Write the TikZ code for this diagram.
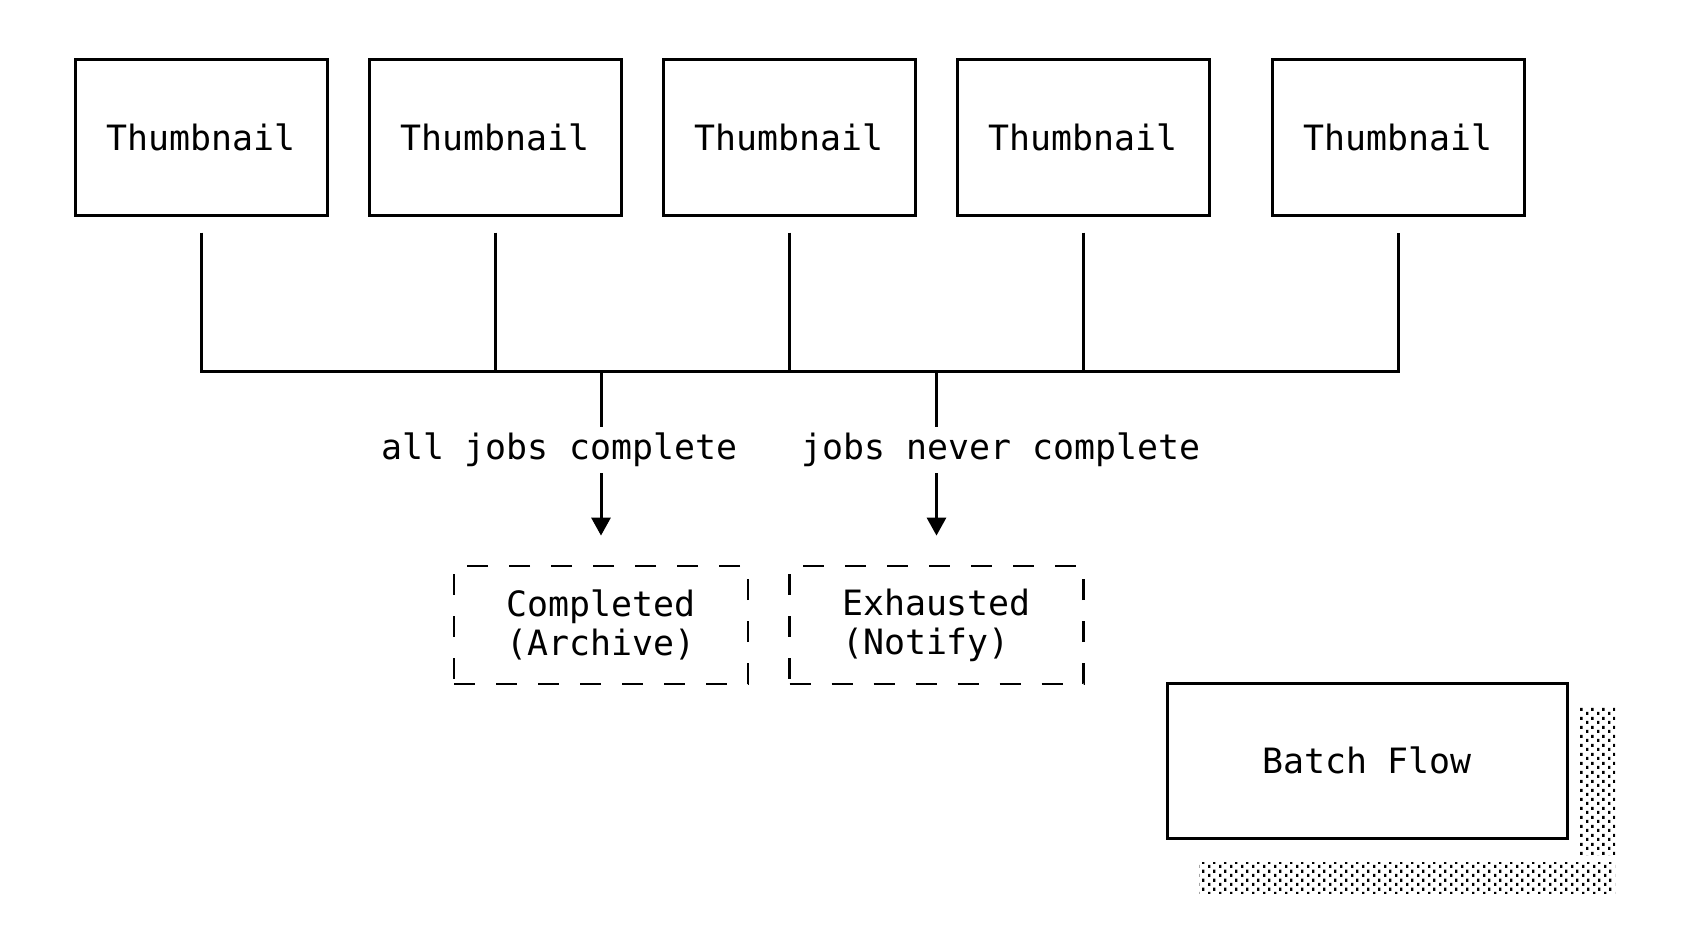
\documentclass[tikz,border=0pt]{standalone}
\usepackage{fontspec}
\setmainfont{DejaVu Sans Mono}
\usetikzlibrary{arrows.meta,patterns.meta}
\pgfdeclarepattern{name=asciishade, type=uncolored,
  bottom left={\pgfpoint{0pt}{0pt}}, top right={\pgfpoint{5.25pt}{4.5pt}},
  tile size={\pgfpoint{5.25pt}{4.5pt}},
  code={\pgfpathrectangle{\pgfpoint{0pt}{0pt}}{\pgfpoint{1.25pt}{1.75pt}}%
        \pgfpathrectangle{\pgfpoint{2.625pt}{2.25pt}}{\pgfpoint{1.25pt}{1.75pt}}%
        \pgfusepath{fill}}}
\tikzset{
  thumb/.style={draw, line width=1.5pt, minimum width=126pt, minimum height=78pt, inner sep=0pt},
  wire/.style={line width=1.5pt},
  dbox/.style={draw, line width=1.4pt, dash pattern=on 10.5pt off 10.5pt,
    minimum width=147pt, minimum height=59pt, inner sep=0pt},
  lbl/.style={inner sep=0pt, minimum height=23pt},
  arr/.style={wire, -{Triangle[length=9pt,width=9.5pt]}},
  shade/.style={pattern=asciishade, pattern color=black, draw=none}
}
\begin{document}
\begin{tikzpicture}[x=0.5pt, y=-0.5pt, font=\fontsize{17.44}{19.5}\selectfont]
\useasboundingbox (0,0) rectangle (1683,939);
% thumbnails
\node[thumb] (t1) at (201,137) {Thumbnail};
\node[thumb] (t2) at (495,137) {Thumbnail};
\node[thumb] (t3) at (789,137) {Thumbnail};
\node[thumb] (t4) at (1083,137) {Thumbnail};
\node[thumb] (t5) at (1398,137) {Thumbnail};
\coordinate (bus) at (0,371);
\draw[wire, shorten <=8pt, shorten >=8pt] (t1.south) -- (t1.south |- bus) -- (t5.south |- bus) -- (t5.south);
\foreach \t in {t2,t3,t4} \draw[wire, shorten <=8pt] (\t.south) -- (\t.south |- bus);
% outcome boxes
\node[dbox, align=center] (done) at (601,625) {Completed\\(Archive)};
\node[dbox, align=left] (exh) at (936.5,625) {Exhausted\\(Notify)};
% labels
\node[lbl] (lab1) at (559.5,450) {all jobs complete};
\node[lbl] (lab2) at (1001,450) {jobs never complete};
% drops
\draw[wire] (done.north |- bus) -- (done.north |- lab1.north);
\draw[arr, shorten >=14.5pt] (done.north |- lab1.south) -- (done.north);
\draw[wire] (exh.north |- bus) -- (exh.north |- lab2.north);
\draw[arr, shorten >=14.5pt] (exh.north |- lab2.south) -- (exh.north);
% batch flow
\fill[shade] (1578,706) rectangle (1615,855);
\fill[shade] (1199,862) rectangle (1615,893);
\node[draw, line width=1.5pt, minimum width=200pt, minimum height=77.5pt, fill=white] (bf) at (1367,760.5) {Batch Flow};
\end{tikzpicture}
\end{document}
